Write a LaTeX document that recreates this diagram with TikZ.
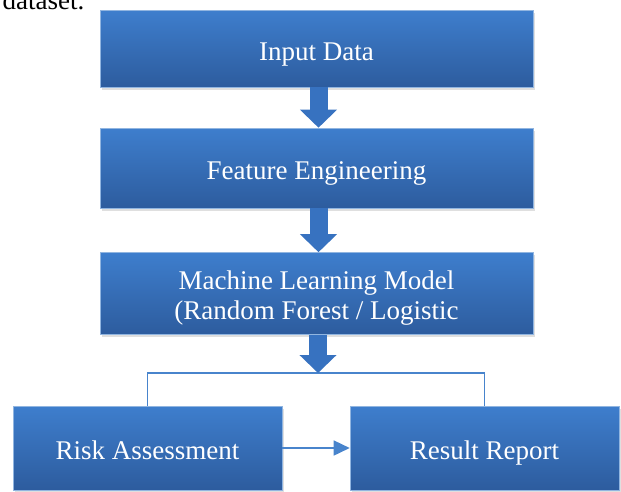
\documentclass[tikz,border=0pt]{standalone}
\usepackage{fontspec}
\setmainfont{Liberation Serif}
\usepackage{tikz}
\usetikzlibrary{arrows.meta,shadows}

\definecolor{boxtop}{RGB}{62,126,205}
\definecolor{boxbot}{RGB}{45,92,158}
\definecolor{arrowblue}{RGB}{55,114,192}
\definecolor{linkblue}{RGB}{72,132,204}

\begin{document}
\begin{tikzpicture}[x=1pt,y=-1pt,>=Triangle,
  stage/.style={rectangle,draw=linkblue!60!white,line width=0.6pt,top color=boxtop,bottom color=boxbot,
    text=white,font=\fontsize{27}{30}\selectfont,align=center,inner sep=0pt,
    drop shadow={shadow xshift=1.5pt,shadow yshift=-2.5pt,opacity=0.25}},
  oneline/.style={text height=23pt,text depth=0pt},
  twoline/.style={text height=51pt,text depth=0pt},
  blockarrow/.style={arrowblue,line width=18pt,-{Triangle[width=36pt,length=18pt]}},
  bracket/.style={draw=linkblue,line width=1.6pt},
  thinarrow/.style={draw=linkblue,line width=1.6pt,-{Triangle[width=15pt,length=16pt]}}]
\useasboundingbox (0,0) rectangle (621,491);
\node[anchor=base west,font=\fontsize{27}{30}\selectfont] (prev) at (-1,9) {dataset.};
\node[stage,oneline,minimum width=433pt,minimum height=77pt] (in) at (316.5,48.5) {Input Data};
\node[stage,oneline,minimum width=433pt,minimum height=80pt] (fe) at (316.5,168) {Feature Engineering};
\node[stage,twoline,minimum width=433pt,minimum height=82pt] (ml) at (316.5,293.5) {Machine Learning Model\\(Random Forest / Logistic};
\node[stage,oneline,minimum width=269pt,minimum height=84pt] (rk) at (147.5,448) {Risk Assessment};
\node[stage,oneline,minimum width=269pt,minimum height=84pt] (rr) at (484.5,448) {Result Report};
\coordinate (split) at (318,373);
\draw[blockarrow] ([xshift=2pt]in.south) -- ([xshift=2pt]fe.north);
\draw[blockarrow] ([xshift=2pt]fe.south) -- ([xshift=2pt]ml.north);
\draw[bracket] (rk.north) |- (split) -| (rr.north);
\draw[blockarrow] (ml.south -| split) -- (split);
\draw[thinarrow] (rk.east) -- (rr.west);
\end{tikzpicture}
\end{document}
